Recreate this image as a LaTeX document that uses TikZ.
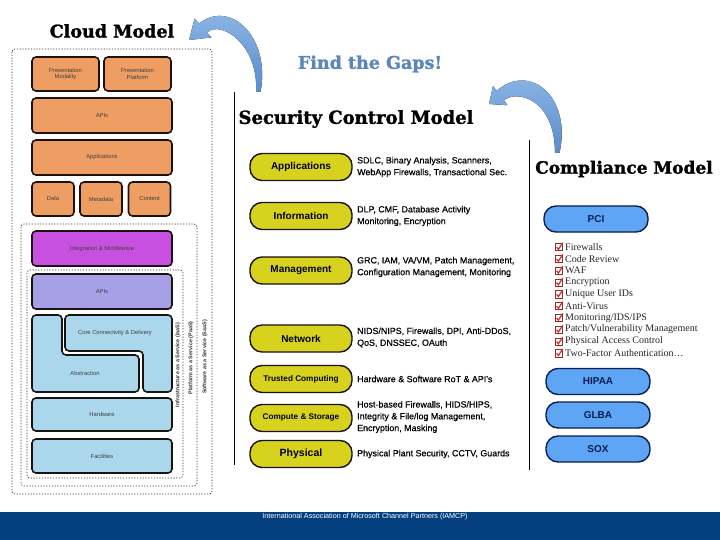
\documentclass[tikz,border=0pt]{standalone}
\usepackage{fontspec}
\setmainfont{Liberation Sans}
\newfontfamily\titlefont{DejaVu Serif}[BoldFeatures={FakeBold=1.5}]
\newfontfamily\listfont{Liberation Serif}
\newfontfamily\descfont{Liberation Sans}[FakeBold=0.6]
\usetikzlibrary{arrows.meta}
\definecolor{cOrange}{HTML}{EE9E63}
\definecolor{cPurple}{HTML}{C850E1}
\definecolor{cLav}{HTML}{A8A0E6}
\definecolor{cLblue}{HTML}{AAD7EB}
\definecolor{cYellow}{HTML}{D7D21E}
\definecolor{cPci}{HTML}{5FA5F5}
\definecolor{cNavy}{HTML}{0A1E50}
\definecolor{cFooter}{HTML}{043F80}
\definecolor{cArrowA}{HTML}{92BBE8}
\definecolor{cArrowB}{HTML}{5A8CCB}
\definecolor{cGaps}{HTML}{5B88B8}
\definecolor{cEdge}{HTML}{1A120E}
\definecolor{cCheck}{HTML}{C83030}
\newcommand\fsz[2]{\fontsize{#1}{#2}\selectfont}
\begin{document}
\begin{tikzpicture}[x=1pt,y=-1pt,
  cbox/.style={draw=cEdge, line width=1.6pt, rounded corners=4pt, inner sep=1pt, align=center, text=black!75, font=\fsz{5.8}{6.8}},
  lshape/.style={draw=cEdge, line width=1.6pt, rounded corners=4pt, fill=cLblue},
  boundary/.style={draw=black!80, line width=0.7pt, dash pattern=on 1.2pt off 1.6pt, rounded corners=3pt},
  vlabel/.style={rotate=90, font=\bfseries\fsz{5.4}{6}, text=black!80, inner sep=0pt},
  spill/.style={draw=cEdge, line width=1.4pt, rounded corners=12pt, fill=cYellow, minimum width=102pt, minimum height=27pt, inner sep=0pt, font=\bfseries\fsz{10}{12}},
  sdesc/.style={anchor=west, align=left, inner sep=0pt, font=\descfont\fsz{8.9}{11.8}},
  cpill/.style={draw=cNavy, line width=1.4pt, rounded corners=12pt, fill=cPci, minimum width=104pt, minimum height=26pt, inner sep=0pt, text=cNavy, font=\bfseries\fsz{10}{12}},
  citem/.style={anchor=west, inner sep=0pt, font=\listfont\fsz{10}{11}, text=black!85},
  title/.style={font=\titlefont\bfseries\fsz{17}{20}, inner sep=0pt},
  bigarrow/.style={top color=cArrowA, bottom color=cArrowB, draw=none},
  chkbox/.pic={\draw[cCheck!80!black, line width=0.6pt, fill=white] (-3.6,-3.6) rectangle (3.6,3.6);
               \draw[cCheck, line width=1.2pt] (-2.4,0.2) -- (-0.6,2.4) -- (3.8,-4.4);}
]
\useasboundingbox (0,0) rectangle (720,540);
\fill[white] (0,0) rectangle (720,540);

% ---------- Cloud model ----------
\node[title, font=\titlefont\bfseries\fsz{17.5}{20}] (tcloud) at (112,31) {Cloud Model};

\draw[boundary] (12,49) rectangle (212,494);
\draw[boundary] (21,224) rectangle (197,486);
\draw[boundary] (27,270) rectangle (183,478);

\node[cbox, fill=cOrange, minimum width=67pt, minimum height=34pt] (pmod) at (65.5,74) {Presentation\\Modality};
\node[cbox, fill=cOrange, minimum width=67pt, minimum height=34pt] (pplat) at (137.5,74) {Presentation\\Platform};
\node[cbox, fill=cOrange, minimum width=140pt, minimum height=35pt] (apis1) at (102,115.5) {APIs};
\node[cbox, fill=cOrange, minimum width=140pt, minimum height=35pt] (apps) at (102,157.5) {Applications};
\node[cbox, fill=cOrange, minimum width=42pt, minimum height=34pt] (data) at (53,199) {Data};
\node[cbox, fill=cOrange, minimum width=42pt, minimum height=34pt] (meta) at (101,199) {Metadata};
\node[cbox, fill=cOrange, minimum width=42pt, minimum height=34pt] (content) at (149.5,199) {Content};
\node[cbox, fill=cPurple, minimum width=140pt, minimum height=35pt] (integ) at (102,248.5) {Integration \& Middleware};
\node[cbox, fill=cLav, minimum width=140pt, minimum height=35pt] (apis2) at (102,291.5) {APIs};

\draw[lshape] (32,315) -- (62,315) -- (62,355) -- (139,355) -- (139,392) -- (32,392) -- cycle;
\draw[lshape] (65,315) -- (172,315) -- (172,392) -- (143,392) -- (143,351) -- (65,351) -- cycle;
\node[text=black!75, font=\fsz{5.8}{6.8}, inner sep=0pt] (core) at (115,333) {Core Connectivity \& Delivery};
\node[text=black!75, font=\fsz{5.8}{6.8}, inner sep=0pt] (abs) at (85,373) {Abstraction};

\node[cbox, fill=cLblue, minimum width=140pt, minimum height=33pt] (hw) at (102,414.5) {Hardware};
\node[cbox, fill=cLblue, minimum width=140pt, minimum height=34pt] (fac) at (102,456) {Facilities};

\node[vlabel] (iaas) at (178,365) {Infrastructure as a Service (IaaS)};
\node[vlabel] (paas) at (191,358) {Platform as a Service (PaaS)};
\node[vlabel] (saas) at (205,357) {Software as a Service (SaaS)};

% ---------- Find the gaps ----------
\node[title, text=cGaps, font=\titlefont\bfseries\fsz{17.5}{20}] (gaps) at (370,64) {Find the Gaps!};

% ---------- Security control model ----------
\draw[black, line width=1pt] (234,92) -- (234,465);
\draw[black, line width=1pt] (529,140) -- (529,470);
\node[title, font=\titlefont\bfseries\fsz{18}{20}] (tsec) at (356,119) {Security Control Model};

\node[spill] (sapp) at (301,167) {Applications};
\node[sdesc] (dapp) at (357,167) {SDLC, Binary Analysis, Scanners,\\WebApp Firewalls, Transactional Sec.};
\node[spill] (sinfo) at (301,216) {Information};
\node[sdesc] (dinfo) at (357,216) {DLP, CMF, Database Activity\\Monitoring, Encryption};
\node[spill] (smgmt) at (301,270.5) {Management};
\node[sdesc] (dmgmt) at (357,267) {GRC, IAM, VA/VM, Patch Management,\\Configuration Management, Monitoring};
\node[spill] (snet) at (301,338.5) {Network};
\node[sdesc] (dnet) at (357,337.5) {NIDS/NIPS, Firewalls, DPI, Anti-DDoS,\\QoS, DNSSEC, OAuth};
\node[spill, font=\bfseries\fsz{8.2}{10}] (strust) at (301,379) {Trusted Computing};
\node[sdesc] (dtrust) at (357,379) {Hardware \& Software RoT \& API's};
\node[spill, font=\bfseries\fsz{8.2}{10}] (scomp) at (301,418) {Compute \& Storage};
\node[sdesc] (dcomp) at (357,417) {Host-based Firewalls, HIDS/HIPS,\\Integrity \& File/log Management,\\Encryption, Masking};
\node[spill, font=\bfseries\fsz{10.5}{12}] (sphys) at (301,454) {Physical};
\node[sdesc] (dphys) at (357,454) {Physical Plant Security, CCTV, Guards};

% ---------- Compliance model ----------
\node[title] (tcomp) at (624,169) {Compliance Model};
\node[cpill] (pci) at (596,219) {PCI};
\foreach \t [count=\i from 0] in {Firewalls, Code Review, WAF, Encryption, Unique User IDs, Anti-Virus, Monitoring/IDS/IPS, Patch/Vulnerability Management, Physical Access Control, {Two-Factor Authentication\ldots}}{
  \pic at (559,{247+11.8*\i}) {chkbox};
  \node[citem] (item\i) at (565,{247+11.8*\i}) {\t};
}
\node[cpill] (hipaa) at (598,381.5) {HIPAA};
\node[cpill] (glba) at (598,415) {GLBA};
\node[cpill] (sox) at (598,449) {SOX};

% ---------- curved arrows (tapered) ----------
\coordinate (a1tail) at (258,92);
\coordinate (a1tip) at (189,40);
\fill[bigarrow] (260.5,92) .. controls (271,37) and (230,-1) .. (199,23.5)
   -- (194.6,18.6) -- (a1tip) -- (211.4,37.4) -- (207,32.5)
   .. controls (221,19.5) and (259,45) .. (256,92) -- cycle;
\coordinate (a2tail) at (557,153);
\coordinate (a2tip) at (489,104);
\fill[bigarrow] (559.5,153) .. controls (572,97) and (530,62) .. (496.6,90.8)
   -- (493,86) -- (a2tip) -- (507.4,105.2) -- (503.8,100.4)
   .. controls (518,89) and (555,100) .. (555,153) -- cycle;

% ---------- footer ----------
\fill[cFooter] (0,512) rectangle (720,540);
\node[text=white, font=\fsz{7.2}{8}, inner sep=0pt] (foot) at (365,517) {International Association of Microsoft Channel Partners (IAMCP)};
\end{tikzpicture}
\end{document}
